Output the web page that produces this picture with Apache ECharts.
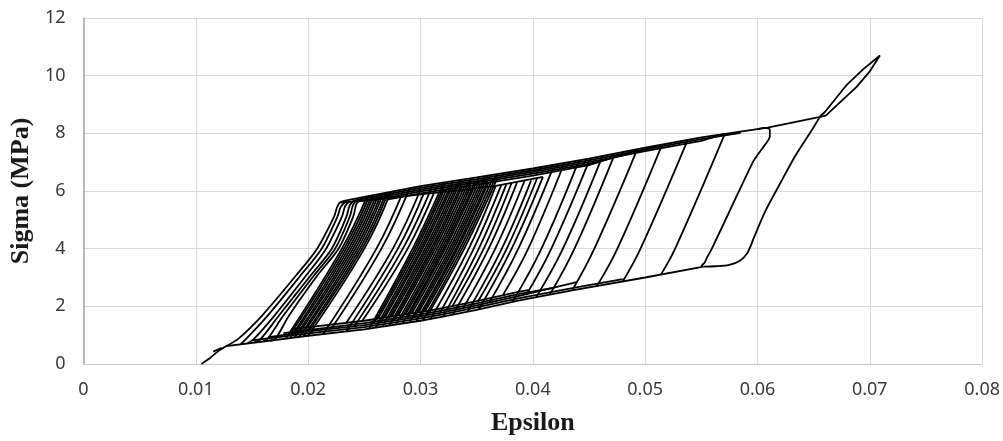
<!DOCTYPE html>
<html>
<head>
<meta charset="utf-8">
<title>Sigma – Epsilon hysteresis</title>
<script src="https://cdn.jsdelivr.net/npm/echarts@6/dist/echarts.min.js"></script>
<style>
  html, body { margin: 0; padding: 0; background: #fff; }
  #chart { width: 1003px; height: 441px; }
</style>
</head>
<body>
<div id="chart"></div>
<script>
// Axis ranges: [min, max, step]
const epsRange = [0, 0.08, 0.01];
const sigmaRange = [0, 12, 2];

// First loading from zero stress
const initialBranch = [[0.0105, 0.0], [0.0113, 0.22], [0.0121, 0.48], [0.0127, 0.62]];
const initialReturn = [[0.01155, 0.43], [0.0123, 0.56]];

// Curved reloading branches at the left end of the cycles
const fanCurves = [
  [[0.0127,0.62],[0.0138,0.88],[0.0159,1.68],[0.0189,3.06],[0.0208,4.0],[0.0223,5.1],[0.02255,5.41],[0.0228,5.6],[0.0232,5.66]],
  [[0.0140,0.69],[0.0145,0.88],[0.0164,1.68],[0.0193,3.06],[0.0212,4.0],[0.0226,5.1],[0.0229,5.45],[0.0233,5.62]],
  [[0.0146,0.72],[0.0152,0.88],[0.0170,1.68],[0.0198,3.06],[0.0216,4.0],[0.0230,5.1],[0.0233,5.48],[0.0237,5.66]],
  [[0.0152,0.75],[0.0158,0.88],[0.0174,1.68],[0.0202,3.06],[0.0221,4.0],[0.0234,5.1],[0.0237,5.5],[0.0241,5.68]],
  [[0.0160,0.78],[0.0164,0.88],[0.0178,1.68],[0.0205,3.06],[0.0224,4.0],[0.0237,5.1],[0.0240,5.52],[0.0244,5.7]],
  [[0.0166,0.81],[0.0171,0.88],[0.0183,1.68],[0.0208,3.06],[0.0227,4.0],[0.0240,5.1],[0.0243,5.55],[0.0247,5.73]]
];

// Steep transfer branches: [eps_low, sigma_low, eps_mid, sigma_mid, eps_high, sigma_high]
const denseBand = [
  [0.0180,0.88,0.0230,4,0.02526,5.82],
  [0.01844,1.05,0.0232,4,0.02532,5.71],
  [0.0184,0.90,0.0234,4,0.02568,5.85],
  [0.01884,1.07,0.0236,4,0.02574,5.74],
  [0.0188,0.92,0.0238,4,0.0261,5.88],
  [0.01924,1.09,0.0240,4,0.02616,5.77],
  [0.0192,0.94,0.0242,4,0.02652,5.91],
  [0.01964,1.11,0.0244,4,0.02658,5.80],
  [0.0196,0.96,0.0246,4,0.02694,5.94],
  [0.02004,1.13,0.0248,4,0.027,5.83],
  [0.0200,0.98,0.0250,4,0.02736,5.97]
];

const midGroup = [
  [0.02134,1.04,0.02608,4,0.02842,5.95],
  [0.02206,1.22,0.02652,4,0.02905,6.11],
  [0.0234,1.43,0.02754,4,0.03002,6.06],
  [0.0234,1.13,0.02799,4,0.03035,5.97],
  [0.02411,1.31,0.02843,4,0.03112,6.24],
  [0.02481,1.49,0.02886,4,0.03143,6.14]
];

const coreStrands = [
  [0.02541,1.22,0.0293,4,0.03205,6.29],
  [0.02582,1.40,0.02948,4,0.0321,6.18],
  [0.02622,1.57,0.02966,4,0.03214,6.07],
  [0.02601,1.26,0.02985,4,0.0325,6.21],
  [0.02643,1.43,0.03004,4,0.03285,6.34],
  [0.02681,1.60,0.0302,4,0.03288,6.23],
  [0.02661,1.30,0.0304,4,0.03294,6.11],
  [0.02702,1.47,0.03058,4,0.03329,6.25],
  [0.02743,1.64,0.03076,4,0.03362,6.39],
  [0.02722,1.33,0.03095,4,0.03369,6.28],
  [0.02761,1.50,0.03112,4,0.03371,6.16],
  [0.02802,1.68,0.0313,4,0.03407,6.30],
  [0.02782,1.37,0.0315,4,0.03442,6.44],
  [0.02825,1.54,0.0317,4,0.0345,6.33],
  [0.02865,1.71,0.03188,4,0.03453,6.21],
  [0.02842,1.41,0.03205,4,0.03488,6.35],
  [0.02879,1.58,0.0322,4,0.03518,6.48],
  [0.02922,1.75,0.0324,4,0.03525,6.37],
  [0.02902,1.44,0.0326,4,0.03531,6.25],
  [0.02943,1.62,0.03278,4,0.03566,6.39],
  [0.02983,1.79,0.03296,4,0.036,6.53],
  [0.02962,1.48,0.03315,4,0.03606,6.42],
  [0.0300,1.65,0.0333,4,0.03606,6.30],
  [0.03042,1.83,0.0335,4,0.03644,6.45],
  [0.03022,1.52,0.0337,4,0.0368,6.58],
  [0.03065,1.70,0.0339,4,0.03687,6.47]
];

const rightStrands = [
  [0.0309,1.56,0.0343,4,0.0367,6.18],
  [0.03171,1.76,0.03474,4,0.0372,6.21],
  [0.0320,1.64,0.03519,4,0.03765,6.24],
  [0.03282,1.99,0.03563,4,0.0381,6.27],
  [0.0329,1.73,0.03607,4,0.0386,6.30],
  [0.03381,1.94,0.03666,4,0.0393,6.39],
  [0.0342,1.82,0.03724,4,0.03985,6.37],
  [0.03512,2.17,0.03768,4,0.0404,6.46],
  [0.0352,1.90,0.03812,4,0.0409,6.49],
  [0.03611,2.12,0.03871,4,0.0418,6.80],
  [0.03732,2.38,0.03959,4,0.0428,6.97],
  [0.0382,2.16,0.04077,4,0.0441,7.06],
  [0.03941,2.39,0.04165,4,0.0451,7.13],
  [0.0403,2.32,0.04268,4,0.0462,7.21],
  [0.0415,2.40,0.04371,4,0.0473,7.29],
  [0.0435,2.55,0.04548,4,0.0493,7.45],
  [0.0457,2.70,0.04753,4,0.0515,7.60],
  [0.0480,2.86,0.04959,4,0.0538,7.78],
  [0.0514,3.10,0.05267,4,0.0571,7.99]
];

// Lower (unloading) plateaus
const lowerBranches = [
  [[0.0127,0.62],[0.016,0.78],[0.02,0.98],[0.025,1.2],[0.03,1.5],[0.032,1.64],[0.035,1.88],[0.0387,2.2],[0.0435,2.55],[0.05,3.0],[0.0552,3.38]],
  [[0.0150,0.82],[0.02,1.06],[0.025,1.28],[0.03,1.58],[0.032,1.72],[0.035,1.96],[0.0387,2.28],[0.0435,2.63],[0.048,2.94]],
  [[0.0165,0.93],[0.02,1.13],[0.025,1.35],[0.03,1.65],[0.032,1.79],[0.035,2.03],[0.0387,2.35],[0.0439,2.84]],
  [[0.0178,1.07],[0.025,1.42],[0.03,1.72],[0.032,1.86],[0.035,2.1],[0.0387,2.42],[0.0418,2.64]],
  [[0.0186,1.21],[0.025,1.5],[0.03,1.8],[0.032,1.94],[0.035,2.18],[0.0387,2.5],[0.0397,2.57]]
];

// Upper (loading) plateaus
const upperBranches = [
  [[0.0232,5.66],[0.025,5.8],[0.03,6.17],[0.035,6.47],[0.04,6.78],[0.045,7.12],[0.05,7.5],[0.055,7.86],[0.0609,8.2],[0.0658,8.59]],
  [[0.0240,5.66],[0.025,5.74],[0.03,6.11],[0.035,6.41],[0.04,6.72],[0.045,7.06],[0.05,7.44],[0.055,7.8],[0.0585,8.02]],
  [[0.0245,5.64],[0.03,6.05],[0.035,6.35],[0.04,6.66],[0.045,7.0],[0.05,7.38],[0.055,7.74],[0.0571,7.99]],
  [[0.026,5.69],[0.03,5.99],[0.035,6.29],[0.04,6.6],[0.045,6.94],[0.0515,7.58]],
  [[0.027,5.7],[0.03,5.92],[0.035,6.22],[0.04,6.53],[0.045,6.9],[0.0493,7.42]],
  [[0.0229,5.6],[0.026,5.7],[0.03,5.88],[0.034,6.05],[0.0367,6.18],[0.0409,6.49]]
];

// Last partial cycle before the largest one
const innerLoop = [[0.0600,8.15],[0.0607,8.19],[0.0611,8.12],[0.0611,7.9],[0.0607,7.62],[0.0601,7.3],[0.0596,7.01],[0.0559,3.97],[0.0555,3.69],[0.0553,3.52],[0.0550,3.40]];

// Elastic peak and final unloading
const peakBranch = [[0.0658,8.59],[0.0661,8.62],[0.0672,9.02],[0.0688,9.6],[0.0700,10.15],[0.0709,10.7],[0.0694,10.22],[0.0679,9.66],[0.0667,9.08],[0.0660,8.74],[0.0656,8.6]];
const finalUnloading = [[0.0656,8.6],[0.0649,8.15],[0.0634,7.24],[0.0620,6.25],[0.0607,5.3],[0.0597,4.4],[0.0591,3.85],[0.0584,3.57],[0.0575,3.44],[0.0563,3.39],[0.0552,3.38]];

const toPolyline = r => [[r[0], r[1]], [r[2], r[3]], [r[4], r[5]]];

function curve(points, smooth) {
  return {
    type: 'line',
    data: points,
    symbol: 'none',
    smooth: smooth,
    silent: true,
    animation: false,
    lineStyle: { color: '#000', width: 1.8 }
  };
}

const series = [].concat(
  [curve(initialBranch, false), curve(initialReturn, false)],
  fanCurves.map(c => curve(c, 0.3)),
  denseBand.map(r => curve(toPolyline(r), 0.4)),
  midGroup.map(r => curve(toPolyline(r), 0.4)),
  coreStrands.map(r => curve(toPolyline(r), 0.4)),
  rightStrands.map(r => curve(toPolyline(r), 0.4)),
  lowerBranches.map(c => curve(c, false)),
  upperBranches.map(c => curve(c, false)),
  [curve(innerLoop, 0.3), curve(peakBranch, false), curve(finalUnloading, 0.3)]
);

const tickFont = { fontFamily: 'Noto Sans', fontSize: 18, color: '#3a3a3a' };
const titleFont = { fontFamily: 'Liberation Serif', fontWeight: 'bold', fontSize: 26, color: '#1a1a1a' };

const chart = echarts.init(document.getElementById('chart'), null, { renderer: 'canvas' });
chart.setOption({
  animation: false,
  backgroundColor: '#fff',
  grid: { left: 81, right: 15, top: 18, bottom: 74, containLabel: false },
  xAxis: {
    type: 'value',
    min: epsRange[0], max: epsRange[1], interval: epsRange[2],
    name: 'Epsilon', nameLocation: 'middle', nameGap: 46,
    nameTextStyle: titleFont,
    axisLine: { show: true, onZero: false, lineStyle: { color: '#c8c8c8', width: 1 } },
    axisTick: { show: false },
    axisLabel: Object.assign({ margin: 17 }, tickFont),
    splitLine: { show: true, lineStyle: { color: '#d9d9d9', width: 1 } }
  },
  yAxis: {
    type: 'value',
    min: sigmaRange[0], max: sigmaRange[1], interval: sigmaRange[2],
    name: 'Sigma (MPa)', nameLocation: 'middle', nameGap: 40,
    nameTextStyle: titleFont,
    axisLine: { show: true, lineStyle: { color: '#a8a8a8', width: 1.5 } },
    axisTick: { show: false },
    axisLabel: Object.assign({ margin: 18 }, tickFont),
    splitLine: { show: true, lineStyle: { color: '#d9d9d9', width: 1 } }
  },
  series: series
});
</script>
</body>
</html>
